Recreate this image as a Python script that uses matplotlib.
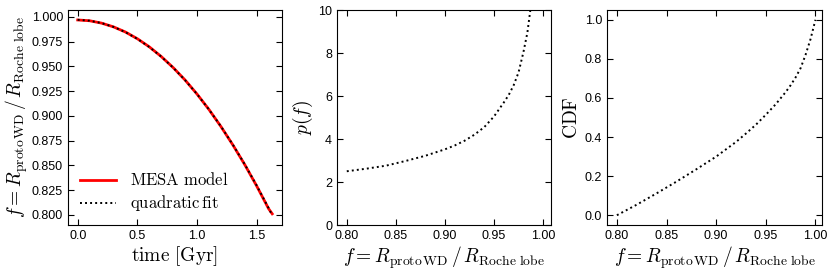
import numpy as np
from matplotlib import pyplot as plt

# MESA model: f = R_protoWD / R_Roche lobe vs time
time_gyr = [0.0, 0.1, 0.2, 0.3, 0.4, 0.5, 0.6, 0.7, 0.8, 0.9, 1.0,
            1.1, 1.2, 1.3, 1.4, 1.5, 1.6, 1.63]
f_mesa = [0.9970, 0.9962, 0.9938, 0.9900, 0.9848, 0.9780, 0.9698, 0.9600,
          0.9488, 0.9362, 0.9220, 0.9064, 0.8892, 0.8706, 0.8506, 0.8290,
          0.8060, 0.8009]

# p(f) curve
f_pdf = [0.80, 0.82, 0.84, 0.86, 0.88, 0.90, 0.91, 0.92, 0.93, 0.94, 0.95,
         0.96, 0.965, 0.97, 0.975, 0.98, 0.984, 0.987, 0.990]
p_f = [2.50, 2.62, 2.76, 2.98, 3.22, 3.52, 3.70, 3.92, 4.20, 4.55, 5.05,
       5.70, 6.05, 6.50, 7.10, 8.05, 8.95, 10.0, 11.2]

# CDF curve
f_cdf = [0.80, 0.82, 0.84, 0.86, 0.88, 0.90, 0.92, 0.93, 0.94, 0.95, 0.96,
         0.97, 0.975, 0.98, 0.985, 0.99, 0.995, 0.998, 1.00]
cdf = [0.0, 0.054, 0.112, 0.172, 0.235, 0.300, 0.375, 0.418, 0.463, 0.514,
       0.568, 0.630, 0.665, 0.705, 0.752, 0.820, 0.900, 0.960, 1.0]

plt.rcParams['mathtext.fontset'] = 'cm'
plt.rcParams['font.family'] = ['Liberation Sans', 'DejaVu Sans']
plt.rcParams['xtick.labelsize'] = 9
plt.rcParams['ytick.labelsize'] = 9

flabel = r'$f = R_{\rm proto\,WD}\,/\,R_{\rm Roche\ lobe}$'
dots = (0, (1, 1.6))

fig = plt.figure(figsize=(8.31, 2.74), dpi=100)
ax1 = fig.add_axes([0.0818, 0.1788, 0.2575, 0.7847])
ax2 = fig.add_axes([0.4055, 0.1788, 0.2575, 0.7847])
ax3 = fig.add_axes([0.7304, 0.1788, 0.2590, 0.7847])

for ax in (ax1, ax2, ax3):
    ax.tick_params(direction='in', top=True, right=True, length=4, width=0.8)

# left panel
coef = np.polyfit(time_gyr, f_mesa, 2)
ax1.plot(time_gyr, f_mesa, color='red', lw=2, label=r'$\mathrm{MESA\ model}$')
ax1.plot(time_gyr, np.polyval(coef, time_gyr), color='k', lw=1.4, ls=dots,
         label=r'$\mathrm{quadratic\,fit}$')
ax1.set_xlabel(r'$\mathrm{time\ [Gyr]}$', fontsize=14, labelpad=2)
ax1.set_ylabel(flabel, fontsize=14, labelpad=1)
ax1.set_yticks([0.800, 0.825, 0.850, 0.875, 0.900, 0.925, 0.950, 0.975, 1.000])
ax1.set_xticks([0.0, 0.5, 1.0, 1.5])
ax1.legend(loc='lower left', frameon=False, fontsize=12, handlelength=2.2,
           borderaxespad=0.3, labelspacing=0.3)

# middle panel
ax2.plot(f_pdf, p_f, color='k', lw=1.4, ls=dots)
ax2.set_xlim(0.79, 1.008)
ax2.set_ylim(0, 10)
ax2.set_xticks([0.80, 0.85, 0.90, 0.95, 1.00])
ax2.set_xlabel(flabel, fontsize=14, labelpad=2)
ax2.set_ylabel(r'$p(f)$', fontsize=14, labelpad=2)

# right panel
ax3.plot(f_cdf, cdf, color='k', lw=1.4, ls=dots)
ax3.set_xlim(0.79, 1.0068)
ax3.set_ylim(-0.05, 1.05)
ax3.set_xticks([0.80, 0.85, 0.90, 0.95, 1.00])
ax3.set_xlabel(flabel, fontsize=14, labelpad=2)
ax3.set_ylabel(r'$\mathrm{CDF}$', fontsize=14, labelpad=3)

fig.savefig('out.png', dpi=100)
